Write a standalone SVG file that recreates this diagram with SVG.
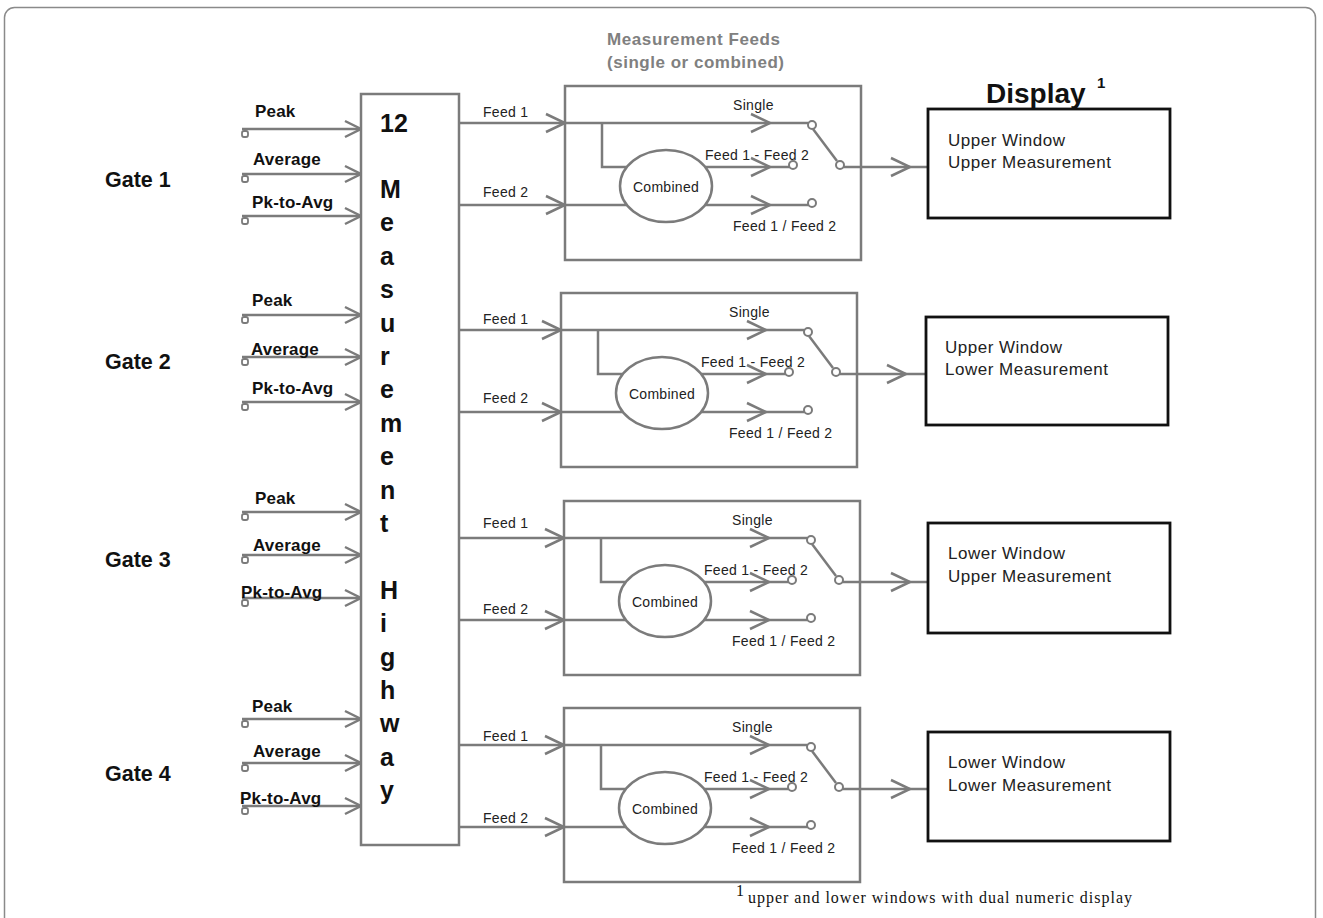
<svg xmlns="http://www.w3.org/2000/svg" xmlns:xlink="http://www.w3.org/1999/xlink" width="1323" height="918" viewBox="0 0 1323 918">
<style>
.ln{fill:none;stroke:#7b7b7b;stroke-width:2.5}
.gbox{fill:none;stroke:#7b7b7b;stroke-width:2.5}
.dbox{fill:#fff;stroke:#111;stroke-width:2.8}
.ct{fill:#fff;stroke:#7b7b7b;stroke-width:2}
.term{fill:#fff;stroke:#7b7b7b;stroke-width:1.8}
.gate{font-family:"Liberation Sans",Arial,sans-serif;font-weight:bold;font-size:21.5px;fill:#111}
.inl{font-family:"Liberation Sans",Arial,sans-serif;font-weight:bold;font-size:17px;fill:#111;letter-spacing:0.2px}
.hw{font-family:"Liberation Sans",Arial,sans-serif;font-weight:bold;font-size:25px;fill:#111}
.fl{font-family:"Liberation Sans",Arial,sans-serif;font-size:14px;fill:#222;letter-spacing:0.3px}
.ttl{font-family:"Liberation Sans",Arial,sans-serif;font-weight:bold;font-size:17px;fill:#808080}
.disp{font-family:"Liberation Sans",Arial,sans-serif;font-size:17px;fill:#222;letter-spacing:0.5px}
.dt{font-family:"Liberation Sans",Arial,sans-serif;font-weight:bold;font-size:28px;fill:#111}
.fn{font-family:"Liberation Serif","Times New Roman",serif;font-size:16px;fill:#111}
</style>
<defs>
<path id="chev" d="M-16,-8 L0,0 L-16,8" fill="none" stroke="#7b7b7b" stroke-width="2.5"/>
<path id="chevL" d="M-19,-9 L0,0 L-19,9" fill="none" stroke="#7b7b7b" stroke-width="2.5"/>
</defs>
<rect x="0" y="0" width="1323" height="918" fill="#fff"/>
<rect x="4.5" y="7.5" width="1311" height="940" rx="10" ry="10" fill="none" stroke="#8a8a8a" stroke-width="1.5"/>

<!-- connectors -->
<g id="connectors">
  <!-- gate inputs -->
  <path class="ln" d="M242,129H361M242,174H361M242,216H361M242,315H361M242,357H361M242,402H361M242,512H361M242,555H361M242,598H361M242,719H361M242,763H361M242,806H361"/>
  <use href="#chev" x="361" y="129"/><use href="#chev" x="361" y="174"/><use href="#chev" x="361" y="216"/>
  <use href="#chev" x="361" y="315"/><use href="#chev" x="361" y="357"/><use href="#chev" x="361" y="402"/>
  <use href="#chev" x="361" y="512"/><use href="#chev" x="361" y="555"/><use href="#chev" x="361" y="598"/>
  <use href="#chev" x="361" y="719"/><use href="#chev" x="361" y="763"/><use href="#chev" x="361" y="806"/>
  <rect class="term" x="242" y="131" width="6" height="6" rx="2"/><rect class="term" x="242" y="176" width="6" height="6" rx="2"/><rect class="term" x="242" y="218" width="6" height="6" rx="2"/>
  <rect class="term" x="242" y="317" width="6" height="6" rx="2"/><rect class="term" x="242" y="359" width="6" height="6" rx="2"/><rect class="term" x="242" y="404" width="6" height="6" rx="2"/>
  <rect class="term" x="242" y="514" width="6" height="6" rx="2"/><rect class="term" x="242" y="557" width="6" height="6" rx="2"/><rect class="term" x="242" y="600" width="6" height="6" rx="2"/>
  <rect class="term" x="242" y="721" width="6" height="6" rx="2"/><rect class="term" x="242" y="765" width="6" height="6" rx="2"/><rect class="term" x="242" y="808" width="6" height="6" rx="2"/>
  <text class="inl" x="255" y="117">Peak</text>
  <text class="inl" x="253" y="165">Average</text>
  <text class="inl" x="252" y="208">Pk-to-Avg</text>
  <text class="inl" x="252" y="306">Peak</text>
  <text class="inl" x="251" y="355">Average</text>
  <text class="inl" x="252" y="394">Pk-to-Avg</text>
  <text class="inl" x="255" y="504">Peak</text>
  <text class="inl" x="253" y="551">Average</text>
  <text class="inl" x="241" y="598">Pk-to-Avg</text>
  <text class="inl" x="252" y="712">Peak</text>
  <text class="inl" x="253" y="757">Average</text>
  <text class="inl" x="240" y="804">Pk-to-Avg</text>

  <!-- highway to feeds -->
  <path class="ln" d="M459,123H565M459,205H565M459,330H561M459,412H561M459,538H564M459,620H564M459,745H564M459,827H564"/>
  <use href="#chevL" x="565" y="123"/><use href="#chevL" x="565" y="205"/>
  <use href="#chevL" x="561" y="330"/><use href="#chevL" x="561" y="412"/>
  <use href="#chevL" x="564" y="538"/><use href="#chevL" x="564" y="620"/>
  <use href="#chevL" x="564" y="745"/><use href="#chevL" x="564" y="827"/>
  <text class="fl" x="483" y="117">Feed 1</text>
  <text class="fl" x="483" y="197">Feed 2</text>
  <text class="fl" x="483" y="324">Feed 1</text>
  <text class="fl" x="483" y="403">Feed 2</text>
  <text class="fl" x="483" y="528">Feed 1</text>
  <text class="fl" x="483" y="614">Feed 2</text>
  <text class="fl" x="483" y="741">Feed 1</text>
  <text class="fl" x="483" y="823">Feed 2</text>

  <!-- feeds to displays -->
  <path class="ln" d="M844,167H928M840,374H926M843,582H928M843,789H928"/>
  <use href="#chevL" x="910" y="167"/><use href="#chevL" x="906" y="374"/>
  <use href="#chevL" x="910" y="582"/><use href="#chevL" x="910" y="789"/>
</g>

<!-- gate labels -->
<g id="gate1"><text class="gate" x="105" y="187">Gate 1</text></g>
<g id="gate2"><text class="gate" x="105" y="369">Gate 2</text></g>
<g id="gate3"><text class="gate" x="105" y="567">Gate 3</text></g>
<g id="gate4"><text class="gate" x="105" y="781">Gate 4</text></g>

<!-- highway -->
<g id="highway">
  <rect x="361" y="94" width="98" height="751" fill="#fff" stroke="#7b7b7b" stroke-width="2.5"/>
  <text class="hw" x="380" y="132">12</text>
  <text class="hw" x="380" y="198">M</text>
  <text class="hw" x="380" y="231">e</text>
  <text class="hw" x="380" y="265">a</text>
  <text class="hw" x="380" y="298">s</text>
  <text class="hw" x="380" y="332">u</text>
  <text class="hw" x="380" y="365">r</text>
  <text class="hw" x="380" y="398">e</text>
  <text class="hw" x="380" y="432">m</text>
  <text class="hw" x="380" y="465">e</text>
  <text class="hw" x="380" y="499">n</text>
  <text class="hw" x="380" y="532">t</text>
  <text class="hw" x="380" y="599">H</text>
  <text class="hw" x="380" y="632">i</text>
  <text class="hw" x="380" y="666">g</text>
  <text class="hw" x="380" y="699">h</text>
  <text class="hw" x="380" y="732">w</text>
  <text class="hw" x="380" y="766">a</text>
  <text class="hw" x="380" y="799">y</text>
</g>

<!-- title -->
<g id="feeds-title">
  <text class="ttl" x="607" y="45" textLength="173" lengthAdjust="spacing">Measurement Feeds</text>
  <text class="ttl" x="607" y="68" textLength="177" lengthAdjust="spacing">(single or combined)</text>
</g>

<!-- feed module template -->
<defs>
<g id="feedmod">
  <rect class="gbox" x="565" y="86" width="296" height="174"/>
  <path class="ln" d="M565,123H808M602,123V167H666M565,205H666M666,167H789M666,205H808M813,129L837,161"/>
  <use href="#chevL" x="770" y="123"/>
  <use href="#chevL" x="770" y="167"/>
  <use href="#chevL" x="770" y="205"/>
  <ellipse cx="666" cy="186" rx="46" ry="36" fill="#fff" stroke="#7b7b7b" stroke-width="2.5"/>
  <circle class="ct" cx="812" cy="125" r="4"/>
  <circle class="ct" cx="793" cy="165" r="4"/>
  <circle class="ct" cx="812" cy="203" r="4"/>
  <circle class="ct" cx="840" cy="165" r="4"/>
  <text class="fl" x="666" y="192" text-anchor="middle">Combined</text>
  <text class="fl" x="733" y="110">Single</text>
  <text class="fl" x="705" y="160">Feed 1 - Feed 2</text>
  <text class="fl" x="733" y="231">Feed 1 / Feed 2</text>
</g>
</defs>
<g id="feeds-1"><use href="#feedmod"/></g>
<g id="feeds-2"><use href="#feedmod" transform="translate(-4,207)"/></g>
<g id="feeds-3"><use href="#feedmod" transform="translate(-1,415)"/></g>
<g id="feeds-4"><use href="#feedmod" transform="translate(-1,622)"/></g>

<!-- displays -->
<g id="display-title">
  <text class="dt" x="986" y="103">Display</text>
  <text x="1097" y="88" font-family="Liberation Sans, Arial, sans-serif" font-weight="bold" font-size="15" fill="#111">1</text>
</g>
<g id="display-1">
  <rect class="dbox" x="928" y="109" width="242" height="109"/>
  <text class="disp" x="948" y="146">Upper Window</text>
  <text class="disp" x="948" y="168">Upper Measurement</text>
</g>
<g id="display-2">
  <rect class="dbox" x="926" y="317" width="242" height="108"/>
  <text class="disp" x="945" y="353">Upper Window</text>
  <text class="disp" x="945" y="375">Lower Measurement</text>
</g>
<g id="display-3">
  <rect class="dbox" x="928" y="523" width="242" height="110"/>
  <text class="disp" x="948" y="559">Lower Window</text>
  <text class="disp" x="948" y="582">Upper Measurement</text>
</g>
<g id="display-4">
  <rect class="dbox" x="928" y="732" width="242" height="109"/>
  <text class="disp" x="948" y="768">Lower Window</text>
  <text class="disp" x="948" y="791">Lower Measurement</text>
</g>

<!-- footnote -->
<g id="footnote">
  <text class="fn" x="736" y="896" font-size="14">1</text>
  <text class="fn" x="748" y="903" textLength="384" lengthAdjust="spacing">upper and lower windows with dual numeric display</text>
</g>
</svg>
